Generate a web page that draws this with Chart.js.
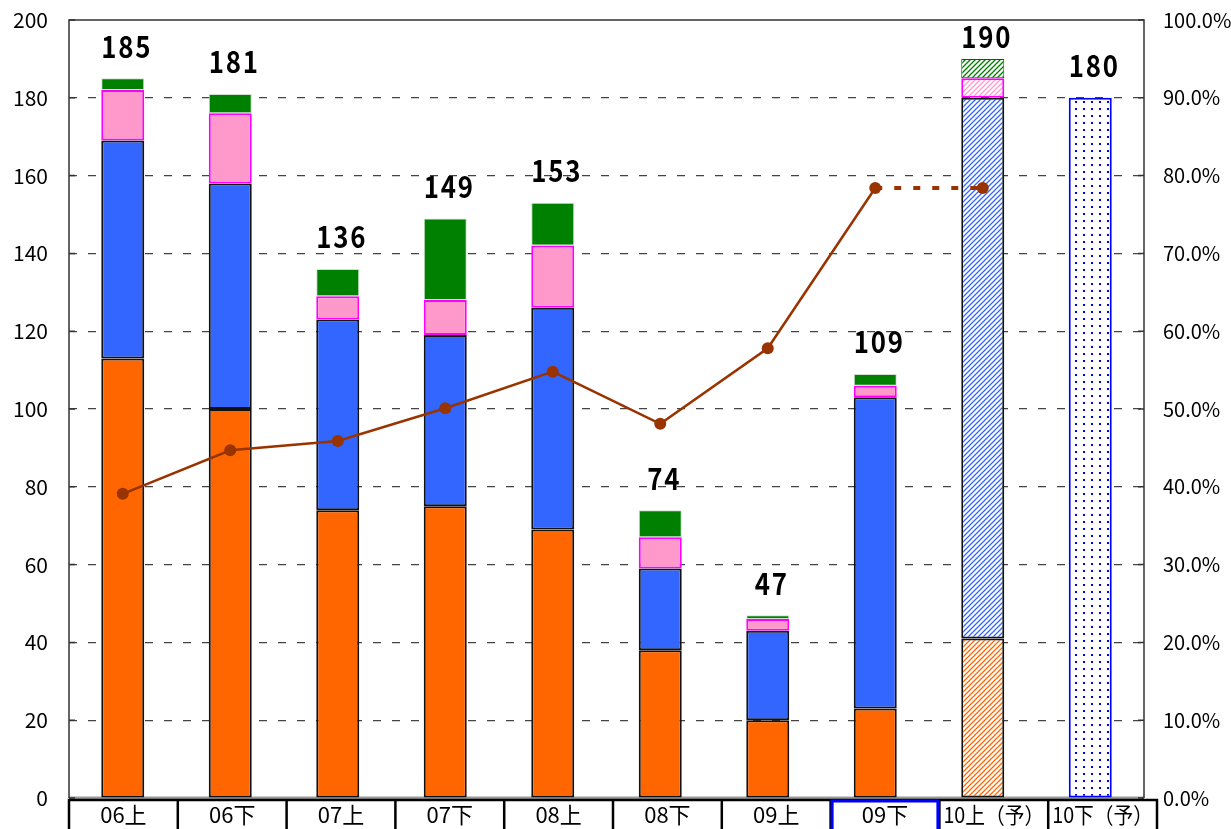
<!DOCTYPE html>
<html>
<head>
<meta charset="utf-8">
<script src="https://cdn.jsdelivr.net/npm/chart.js@4.4.1/dist/chart.umd.min.js"></script>
<style>
  html, body { margin: 0; padding: 0; background: #fff; }
  #wrap { width: 1231px; height: 829px; position: relative; }
</style>
</head>
<body>
<div id="wrap"><canvas id="chart"></canvas></div>
<script>
// ── Data ──
const labels = ['06上', '06下', '07上', '07下', '08上', '08下', '09上', '09下', '10上（予）', '10下（予）'];
const orangeVals = [113, 100, 74, 75, 69, 38, 20, 23, 41, null];
const blueVals   = [56, 58, 49, 44, 57, 21, 23, 80, 139, null];
const pinkVals   = [13, 18, 6, 9, 16, 8, 3, 3, 5, null];
const greenVals  = [3, 5, 7, 21, 11, 7, 1, 3, 5, null];
const planVals   = [null, null, null, null, null, null, null, null, null, 180];
const totals     = [185, 181, 136, 149, 153, 74, 47, 109, 190, 180];
const rateVals   = [39.1, 44.7, 45.9, 50.1, 54.8, 48.1, 57.8, 78.4, 78.4, null];
const leftTicks  = [0, 20, 40, 60, 80, 100, 120, 140, 160, 180, 200];

const FORECAST = 8;      // 10上（予）: hatched
const CURRENT = 7;       // 09下: highlighted cell
const AXIS_FONT = '"Noto Sans CJK JP", "Noto Sans", sans-serif';

// ── Patterns ──
function hatch(color) {
  const c = document.createElement('canvas');
  c.width = 5; c.height = 5;
  const g = c.getContext('2d');
  g.fillStyle = '#fff';
  g.fillRect(0, 0, 5, 5);
  g.strokeStyle = color;
  g.lineWidth = 1.3;
  g.beginPath();
  g.moveTo(-1, 6); g.lineTo(6, -1);
  g.moveTo(-1, 1); g.lineTo(1, -1);
  g.moveTo(4, 6); g.lineTo(6, 4);
  g.stroke();
  return g.createPattern(c, 'repeat');
}

function dots(color) {
  const c = document.createElement('canvas');
  c.width = 8; c.height = 7;
  const g = c.getContext('2d');
  g.fillStyle = '#fff';
  g.fillRect(0, 0, 8, 7);
  g.fillStyle = color;
  g.fillRect(3, 3, 2, 2);
  return g.createPattern(c, 'repeat');
}

const perBar = (normal, forecast) => labels.map((_, i) => i === FORECAST ? forecast : normal);

// vertical axes: fixed width, no extra label padding above/below the plot
const fixWidth = w => s => { s.width = w; s.paddingTop = 0; s.paddingBottom = 0; };

// ── Plugins ──
const framePlugin = {
  id: 'frame',
  beforeDatasetsDraw(chart) {
    const { ctx, chartArea: a } = chart;
    ctx.save();
    ctx.strokeStyle = '#9a9a9a';
    ctx.lineWidth = 3;
    ctx.beginPath();
    ctx.moveTo(a.left, a.bottom); ctx.lineTo(a.right, a.bottom);
    ctx.stroke();
    ctx.strokeStyle = '#333';
    ctx.lineWidth = 1.5;
    ctx.beginPath();
    ctx.moveTo(a.left, a.bottom); ctx.lineTo(a.left, a.top);
    ctx.lineTo(a.right, a.top); ctx.lineTo(a.right, a.bottom);
    ctx.stroke();
    // small inner ticks on both axes
    const y = chart.scales.y;
    leftTicks.forEach(v => {
      const py = y.getPixelForValue(v);
      ctx.beginPath();
      ctx.moveTo(a.left, py); ctx.lineTo(a.left + 6, py);
      ctx.moveTo(a.right, py); ctx.lineTo(a.right - 6, py);
      ctx.stroke();
    });
    ctx.restore();
  }
};

const totalsPlugin = {
  id: 'totals',
  afterDatasetsDraw(chart) {
    const { ctx } = chart;
    const x = chart.scales.x, y = chart.scales.y;
    ctx.save();
    ctx.font = 'bold 30px ' + AXIS_FONT;
    ctx.letterSpacing = '2px';
    ctx.fillStyle = '#000';
    ctx.textAlign = 'center';
    ctx.textBaseline = 'middle';
    totals.forEach((t, i) => {
      const px = x.getPixelForValue(i) + 4;
      const py = Math.max(y.getPixelForValue(t) - 32, 37);
      ctx.save();
      ctx.translate(px, py);
      ctx.scale(0.86, 1);
      ctx.fillText(String(t), 0, 0);
      ctx.restore();
    });
    ctx.restore();
  }
};

const tablePlugin = {
  id: 'labelTable',
  afterDraw(chart) {
    const { ctx } = chart;
    const left = 69, right = 1157, top = 800, bottom = 840;
    const w = (right - left) / labels.length;
    ctx.save();
    ctx.strokeStyle = '#000';
    ctx.lineWidth = 2.5;
    ctx.beginPath();
    ctx.moveTo(left, bottom); ctx.lineTo(left, top); ctx.lineTo(right, top); ctx.lineTo(right, bottom);
    for (let i = 1; i < labels.length; i++) {
      ctx.moveTo(left + i * w, top); ctx.lineTo(left + i * w, bottom);
    }
    ctx.stroke();
    ctx.strokeStyle = '#0000FF';
    ctx.lineWidth = 3;
    ctx.strokeRect(left + CURRENT * w + 1.5, top + 1, w - 3, bottom - top);
    ctx.font = '22px ' + AXIS_FONT;
    ctx.fillStyle = '#000';
    ctx.textAlign = 'center';
    ctx.textBaseline = 'middle';
    labels.forEach((l, i) => {
      const tw = ctx.measureText(l).width;
      const k = Math.min(1, (w - 8) / tw);
      ctx.save();
      ctx.translate(left + (i + 0.5) * w, 815);
      ctx.scale(k, 1);
      ctx.fillText(l, 0, 0);
      ctx.restore();
    });
    ctx.restore();
  }
};

// ── Chart ──
const ctx = document.getElementById('chart');
new Chart(ctx, {
  data: {
    labels,
    datasets: [
      {
        type: 'line', yAxisID: 'y1', order: 0,
        data: rateVals,
        borderColor: '#993300', backgroundColor: '#993300',
        borderWidth: 2.5, pointRadius: 6, pointBorderWidth: 0,
        pointBackgroundColor: '#993300', tension: 0,
        segment: {
          borderDash: c => c.p0DataIndex === CURRENT ? [7, 12] : undefined,
          borderWidth: c => c.p0DataIndex === CURRENT ? 4 : undefined
        }
      },
      {
        type: 'bar', order: 1, stack: 's',
        data: orangeVals,
        backgroundColor: perBar('#FF6600', hatch('#FF6600')),
        borderColor: '#111', borderWidth: 2, borderSkipped: false
      },
      {
        type: 'bar', order: 1, stack: 's',
        data: blueVals,
        backgroundColor: perBar('#3366FF', hatch('#3366FF')),
        borderColor: '#111', borderWidth: 2, borderSkipped: false
      },
      {
        type: 'bar', order: 1, stack: 's',
        data: pinkVals,
        backgroundColor: perBar('#FF99CC', hatch('#FF99CC')),
        borderColor: '#FF00FF', borderWidth: 2, borderSkipped: false
      },
      {
        type: 'bar', order: 1, stack: 's',
        data: greenVals,
        backgroundColor: perBar('#008000', hatch('#008000')),
        borderColor: perBar('#cfe0cf', '#006400'), borderWidth: 1, borderSkipped: false
      },
      {
        type: 'bar', order: 1, stack: 's',
        data: planVals,
        backgroundColor: dots('#0000FF'),
        borderColor: '#0000FF', borderWidth: 2, borderSkipped: false
      }
    ]
  },
  options: {
    responsive: true,
    maintainAspectRatio: false,
    animation: false,
    layout: { padding: { top: 20, left: 0, right: 0, bottom: 0 } },
    datasets: { bar: { barPercentage: 0.4, categoryPercentage: 1 } },
    plugins: { legend: { display: false }, tooltip: { enabled: false } },
    scales: {
      x: {
        stacked: true,
        grid: { display: false },
        border: { display: false },
        ticks: { display: false },
        afterFit: s => { s.height = 31; }
      },
      y: {
        stacked: true, position: 'left',
        min: 0, max: 200,
        afterBuildTicks: s => { s.ticks = leftTicks.map(v => ({ value: v })); },
        grid: {
          drawTicks: false,
          color: c => (c.tick && (c.tick.value === 0 || c.tick.value === 200)) ? 'rgba(0,0,0,0)' : '#444',
          lineWidth: 1.2
        },
        border: { display: false, dash: [8, 11] },
        ticks: { padding: 21, color: '#000', font: { size: 21, family: AXIS_FONT } },
        afterFit: fixWidth(69)
      },
      y1: {
        position: 'right',
        min: 0, max: 100,
        ticks: {
          stepSize: 10, padding: 19, color: '#000',
          font: { size: 20, family: AXIS_FONT },
          callback: v => v.toFixed(1) + '%'
        },
        grid: { display: false, drawTicks: false },
        border: { display: false },
        afterFit: fixWidth(87)
      }
    }
  },
  plugins: [framePlugin, totalsPlugin, tablePlugin]
});
</script>
</body>
</html>
